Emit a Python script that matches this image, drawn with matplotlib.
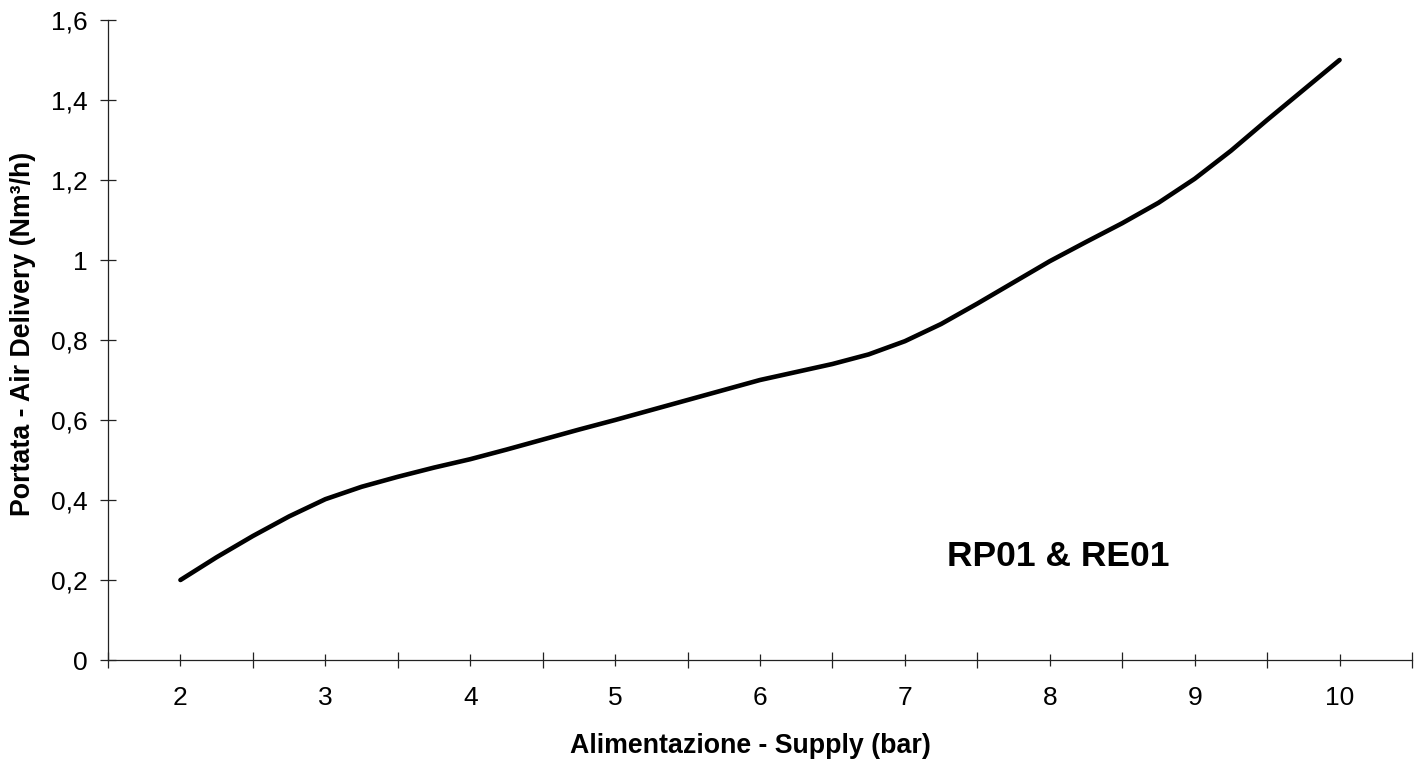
import matplotlib
matplotlib.use("Agg")
import matplotlib.pyplot as plt
from matplotlib.ticker import FuncFormatter, FixedLocator

plt.rcParams['font.family'] = ['Liberation Sans', 'DejaVu Sans']

# Data
supply_bar = [2.0, 2.25, 2.5, 2.75, 3.0, 3.25, 3.5, 3.75, 4.0, 4.25, 4.5, 4.75,
              5.0, 5.25, 5.5, 5.75, 6.0, 6.25, 6.5, 6.75, 7.0, 7.25, 7.5, 7.75,
              8.0, 8.25, 8.5, 8.75, 9.0, 9.25, 9.5, 9.75, 10.0]
air_delivery = [0.200, 0.257, 0.310, 0.359, 0.402, 0.433, 0.458, 0.481, 0.502, 0.526,
                0.551, 0.576, 0.600, 0.625, 0.650, 0.675, 0.700, 0.720, 0.740, 0.764,
                0.797, 0.840, 0.891, 0.944, 0.997, 1.045, 1.092, 1.143, 1.203, 1.273,
                1.350, 1.425, 1.500]
x_ticks = [2, 3, 4, 5, 6, 7, 8, 9, 10]
y_ticks = [0, 0.2, 0.4, 0.6, 0.8, 1.0, 1.2, 1.4, 1.6]

x_title = "Alimentazione - Supply (bar)"
y_title = "Portata - Air Delivery (Nm³/h)"
label_text = "RP01 & RE01"

fig = plt.figure(figsize=(14.26, 7.62), dpi=100)
ax = fig.add_axes([108 / 1426, 1 - 660 / 762, (1412 - 108) / 1426, 640 / 762])

ax.plot(supply_bar, air_delivery, color='black', lw=3.3, solid_capstyle='round',
        solid_joinstyle='round')

ax.set_xlim(1.5, 10.5)
ax.set_ylim(0, 1.6)

for s in ['top', 'right']:
    ax.spines[s].set_visible(False)
for s in ['left', 'bottom']:
    ax.spines[s].set_linewidth(0.9)
    ax.spines[s].set_color('#222222')

ax.xaxis.set_major_locator(FixedLocator(x_ticks))
ax.xaxis.set_minor_locator(FixedLocator([t - 0.5 for t in x_ticks] + [x_ticks[-1] + 0.5]))
ax.yaxis.set_major_locator(FixedLocator(y_ticks))

def comma_fmt(v, pos):
    s = f"{v:.1f}"
    if s.endswith(".0"):
        s = s[:-2]
    return s.replace('.', ',')

ax.yaxis.set_major_formatter(FuncFormatter(comma_fmt))
ax.xaxis.set_major_formatter(FuncFormatter(lambda v, p: f"{int(round(v))}"))

ax.tick_params(axis='x', which='major', direction='inout', length=8, width=0.9,
               color='#222222', labelsize=19, pad=15)
ax.tick_params(axis='x', which='minor', direction='inout', length=12, width=0.9,
               color='#222222')
ax.tick_params(axis='y', which='major', direction='inout', length=12, width=0.9,
               color='#222222', labelsize=19, pad=8.5)

ax.set_xlabel(x_title, fontsize=19.3, fontweight='bold')
ax.xaxis.set_label_coords((750 - 108) / 1304, (660 - 733) / 640)
ax.set_ylabel(y_title, fontsize=19.3, fontweight='bold')
ax.yaxis.set_label_coords((23 - 108) / 1304, 0.51)
ax.yaxis.label.set_va('center')

ax.text(7.29, 0.235, label_text, fontsize=25.5, fontweight='bold',
        ha='left', va='baseline')

fig.savefig("out.png", dpi=100)
